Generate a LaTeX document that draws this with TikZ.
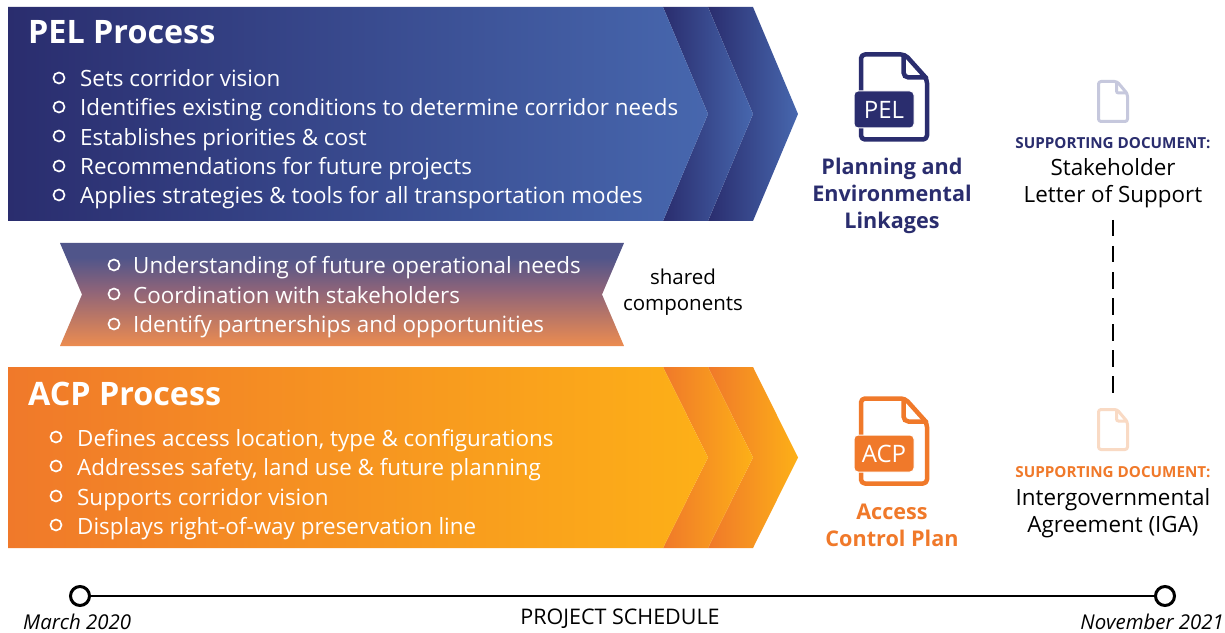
\documentclass[tikz,border=0pt]{standalone}
\usepackage{fontspec}
\setmainfont{Open Sans}
\definecolor{navy}{HTML}{2A2D6E}
\definecolor{navyl}{HTML}{4767AE}
\definecolor{orD}{HTML}{F0792A}
\definecolor{orL}{HTML}{FDB017}
\definecolor{bandT}{HTML}{50558A}
\definecolor{bandM}{HTML}{8E6479}
\definecolor{bandB}{HTML}{EC8C50}
\definecolor{softnavy}{HTML}{C6C8DD}
\definecolor{softor}{HTML}{F9DAC4}
\pgfdeclareverticalshading{bandshade}{100bp}{color(0bp)=(bandB); color(25bp)=(bandB); color(52bp)=(bandM); color(68bp)=(bandT); color(100bp)=(bandT)}
\tikzset{
  x=1bp,y=-1bp,
  bulring/.style={circle,draw=white,line width=1.7bp,inner sep=0pt,minimum size=11bp},
  itemtext/.style={anchor=base west,yshift=-1bp,inner sep=0pt,text=white,font=\fontsize{22.4bp}{24bp}\selectfont},
  ttltext/.style={anchor=base west,yshift=-1bp,inner sep=0pt,text=white,font=\fontsize{32.3bp}{36bp}\selectfont\bfseries},
  captext/.style={anchor=base,yshift=-1bp,inner sep=0pt,font=\fontsize{21.6bp}{26bp}\selectfont\bfseries},
  suptext/.style={anchor=base,yshift=-1bp,inner sep=0pt,font=\fontsize{15.2bp}{18bp}\selectfont\bfseries},
  bodytext/.style={anchor=base,yshift=-1bp,inner sep=0pt,text=black,font=\fontsize{22.4bp}{26bp}\selectfont},
  smalltext/.style={anchor=base,yshift=-1bp,inner sep=0pt,text=black,font=\fontsize{20.5bp}{24bp}\selectfont},
  schedtext/.style={anchor=base,inner sep=0pt,text=black,font=\fontsize{21.5bp}{24bp}\selectfont},
  dateit/.style={inner sep=0pt,text=black,font=\fontsize{20.4bp}{24bp}\selectfont\itshape},
  ring/.style={circle,draw=black,fill=white,line width=3bp,inner sep=0pt,minimum size=19bp},
  iconbox/.style={anchor=north west,inner sep=0pt,text=white,rounded corners=4bp,draw=white,line width=1bp,align=center,font=\fontsize{24bp}{26bp}\selectfont},
}
% #1 dark, #2 light, #3 top y, #4 bottom y
\newcommand{\chevs}[4]{%
  \shade[left color=#1,middle color=#2!30!#1,right color=#2] (708,#3) -- (753,#3) -- (798,{(#3+#4)/2}) -- (753,#4) -- (708,#4) -- (753,{(#3+#4)/2}) -- cycle;
  \shade[left color=#1,middle color=#2!30!#1,right color=#2] (663,#3) -- (708,#3) -- (753,{(#3+#4)/2}) -- (708,#4) -- (663,#4) -- (708,{(#3+#4)/2}) -- cycle;
  \shade[left color=#1,right color=#2] (8,#3) -- (663,#3) -- (708,{(#3+#4)/2}) -- (663,#4) -- (8,#4) -- cycle;
}
% big document icon: #1 colour, #2 y offset, #3 name, #4 label
\newcommand{\bigdoc}[4]{%
  \begin{scope}[yshift=-#2bp]
    \draw[#1,line width=4.5bp,rounded corners=4bp,line join=round] (905,54.5) -- (861,54.5) -- (861,139.5) -- (927,139.5) -- (927,79) -- cycle;
    \draw[#1,line width=4.5bp,rounded corners=5bp,line cap=round] (903.5,57) -- (903.5,77.5) -- (926,77.5);
    \node[iconbox,fill=#1,minimum width=60bp,minimum height=37bp] (#3) at (853.5,90.5) {#4};
  \end{scope}}
% small document icon: #1 colour, #2 top y
\newcommand{\smalldoc}[2]{%
  \begin{scope}[yshift=-#2bp]
    \draw[#1,line width=3bp,rounded corners=2.5bp,line join=round] (1117,1.5) -- (1098.5,1.5) -- (1098.5,41.5) -- (1127.5,41.5) -- (1127.5,14) -- cycle;
    \draw[#1,line width=3bp,rounded corners=2bp,line cap=round] (1116.5,3) -- (1116.5,13) -- (1126.5,13);
  \end{scope}}
\begin{document}
\begin{tikzpicture}
\useasboundingbox (0,0) rectangle (1225,633);
\fill[white] (0,0) rectangle (1225,633);

\chevs{navy}{navyl}{7}{221}
\chevs{orD}{orL}{367}{548}

\shade[shading=bandshade] (60,243) -- (624,243) -- (602,294.5) -- (624,346) -- (60,346) -- (82,294.5) -- cycle;

% PEL
\node[ttltext] (peltitle) at (28,43) {PEL Process};
\foreach \yb/\yt/\txt/\nm in {78/86/Sets corridor vision/a,107/115/Identifies existing conditions to determine corridor needs/b,136/145/Establishes priorities \& cost/c,166/174/Recommendations for future projects/d,195/203/Applies strategies \& tools for all transportation modes/e}{
  \node[bulring] (pb\nm) at (59,\yb) {};
  \node[itemtext] (pt\nm) at (80,\yt) {\txt};
}
% shared
\foreach \yb/\yt/\txt/\nm in {265/273/Understanding of future operational needs/a,294/303/Coordination with stakeholders/b,324/332/Identify partnerships and opportunities/c}{
  \node[bulring] (sb\nm) at (114,\yb) {};
  \node[itemtext] (st\nm) at (133,\yt) {\txt};
}
% ACP
\node[ttltext] (acptitle) at (28,404) {ACP Process};
\foreach \yb/\yt/\txt/\nm in {437/445/{Defines access location, type \& configurations}/a,466/474/{Addresses safety, land use \& future planning}/b,496/504/Supports corridor vision/c,525/533/Displays right-of-way preservation line/d}{
  \node[bulring] (ab\nm) at (56,\yb) {};
  \node[itemtext] (at\nm) at (77,\yt) {\txt};
}

\node[smalltext] (sh1) at (683,284) {shared};
\node[smalltext] (sh2) at (683,310) {components};

% icons
\bigdoc{navy}{0}{pelbox}{PEL}
\bigdoc{orD}{344}{acpbox}{ACP}
\smalldoc{softnavy}{80}
\smalldoc{softor}{408}

\node[captext,text=navy] (c1) at (892,174) {Planning and};
\node[captext,text=navy] (c2) at (892,201) {Environmental};
\node[captext,text=navy] (c3) at (892,228) {Linkages};
\node[captext,text=orD] (c4) at (892,518) {Access};
\node[captext,text=orD] (c5) at (892,545) {Control Plan};

\node[suptext,text=navy] (s1) at (1113,148) {SUPPORTING DOCUMENT:};
\node[bodytext] (s2) at (1113,175) {Stakeholder};
\node[bodytext] (s3) at (1113,202) {Letter of Support};
\node[suptext,text=orD] (s4) at (1113,476) {SUPPORTING DOCUMENT:};
\node[bodytext] (s5) at (1113,504) {Intergovernmental};
\node[bodytext] (s6) at (1113,531) {Agreement (IGA)};

\coordinate (dashtop) at (1113,220);
\coordinate (dashbot) at (1113,393);
\draw[black,line width=1.8bp,dash pattern=on 16.5bp off 9.5bp] (dashtop) -- (dashbot);

% timeline
\node[ring] (tstart) at (80,596) {};
\node[ring] (tend) at (1165,596) {};
\draw[black,line width=2.5bp] (tstart) -- (tend);
\node[schedtext] (sched) at (620,624) {PROJECT SCHEDULE};
\node[dateit,anchor=base west] (d1) at (23,629) {March 2020};
\node[dateit,anchor=base east] (d2) at (1224,629) {November 2021};
\end{tikzpicture}
\end{document}
